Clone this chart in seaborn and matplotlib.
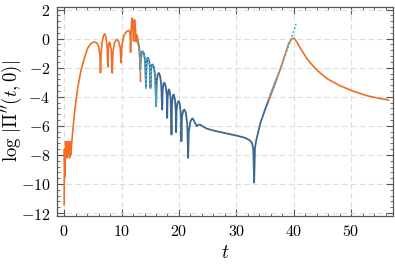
import numpy as np
import pandas as pd
import seaborn as sns
import matplotlib.pyplot as plt
from matplotlib.ticker import MultipleLocator, FuncFormatter

# exact solution, early part (orange)
t_early = [0, 0.05, 0.15, 0.25, 0.35, 0.45, 0.55, 0.65, 0.75, 0.85, 0.95, 1.05, 1.15,
           1.4, 1.77, 2.35, 2.9, 3.5, 4.1, 4.7, 5.25, 5.7, 6.05, 6.25, 6.33, 6.42, 6.6,
           6.85, 7.05, 7.3, 7.5, 7.6, 7.7, 7.85, 8.0, 8.2, 8.38, 8.5, 8.8, 9.2, 9.5,
           9.75, 9.92, 10.05, 10.4, 10.8, 11.2, 11.4, 11.52, 11.57, 11.63, 11.75, 11.86,
           11.95, 12.05, 12.1, 12.18, 12.26, 12.35, 12.45, 12.5, 12.55, 12.7, 12.9,
           13.1, 13.25, 13.3]
y_early = [-11.4, -7.6, -9.5, -7.1, -8.1, -7.1, -8.2, -7.1, -7.9, -7.1, -8.2, -7.1, -8.0,
           -6.8, -5.2, -3.4, -2.25, -1.35, -0.65, -0.33, -0.23, -0.3, -0.6, -1.2, -2.35,
           -1.1, -0.3, 0.2, 0.33, 0.1, -0.6, -1.95, -0.7, -0.25, -0.3, -0.8, -2.36, -0.9,
           -0.25, -0.05, -0.2, -0.6, -1.67, -0.5, 0.2, 0.45, 0.57, 0.5, 0.1, -0.94, 0.2,
           1.1, 1.42, 1.1, 0.2, -0.18, 0.9, 1.3, 1.0, 0.5, -0.2, 0.2, 0.25, -0.2,
           -0.8, -1.8, -2.93]

# exact solution, late part (orange)
t_late = [35.6, 36.5, 37.65, 38.4, 39.1, 39.6, 39.85, 40.05, 40.3, 40.7, 41.1, 41.7,
          42.3, 43.0, 44.0, 45.0, 46.0, 48.1, 50.4, 52.7, 54.5, 56.5]
y_late = [-4.2, -3.3, -2.13, -1.2, -0.35, -0.05, 0.02, 0.02, -0.1, -0.35, -0.62, -1.0,
          -1.38, -1.72, -2.15, -2.5, -2.8, -3.25, -3.62, -3.92, -4.08, -4.22]

# approximation (blue)
t_mid = [12.6, 12.8, 13.0, 13.15, 13.25, 13.35, 13.5, 13.7, 13.9, 14.1, 14.25, 14.35,
         14.5, 14.64, 14.8, 14.95, 15.04, 15.12, 15.3, 15.45, 15.65, 15.85, 16.03, 16.12,
         16.3, 16.5, 16.7, 16.9, 17.08, 17.17, 17.35, 17.5, 17.7, 17.88, 17.95, 18.03,
         18.2, 18.35, 18.55, 18.7, 18.8, 18.95, 19.1, 19.3, 19.45, 19.5, 19.58, 19.75,
         19.97, 20.15, 20.35, 20.43, 20.52, 20.75, 20.96, 21.2, 21.45, 21.6, 21.72, 22.0,
         22.3, 22.47, 22.8, 23.1, 23.4, 23.7, 24.2, 24.9, 26.0, 27.8, 30.0, 31.5, 32.3,
         32.75, 32.95, 33.1, 33.25, 33.5, 34.2, 35.0, 35.9, 37.0]
y_mid = [-0.1, -0.2, -0.45, -0.9, -2.1, -1.4, -0.95, -0.87, -1.05, -1.5, -3.28, -1.8,
         -1.35, -1.33, -1.5, -2.0, -3.39, -2.2, -1.8, -1.79, -2.0, -2.6, -4.65, -3.0,
         -2.45, -2.36, -2.55, -3.1, -4.88, -3.5, -3.05, -3.05, -3.3, -3.9, -5.45, -4.0,
         -3.5, -3.55, -4.1, -6.6, -4.4, -3.9, -3.85, -4.2, -5.0, -6.44, -5.0, -4.4,
         -4.3, -4.5, -5.3, -7.06, -5.4, -4.95, -4.88, -5.1, -5.9, -8.2, -6.4, -5.7,
         -5.5, -5.52, -5.8, -6.03, -5.93, -5.92, -6.05, -6.2, -6.32, -6.48, -6.67, -6.82,
         -6.98, -7.2, -7.6, -9.9, -7.5, -6.94, -5.8, -4.88, -3.96, -2.8]

# asymptotic pieces (cyan, dotted)
t_asym1 = [12.65, 12.8, 13.0, 13.2, 13.3, 13.4, 13.55, 13.7, 13.9, 14.1, 14.27, 14.36,
           14.5, 14.64, 14.8, 14.95, 15.04, 15.12, 15.3, 15.45, 15.65, 15.85, 16.03, 16.1]
y_asym1 = [-0.15, -0.25, -0.5, -1.2, -2.13, -1.3, -0.95, -0.87, -1.05, -1.5, -3.5, -1.8,
           -1.35, -1.33, -1.5, -2.0, -3.5, -2.2, -1.8, -1.79, -2.0, -2.6, -4.65, -3.2]
t_asym2 = [35.8, 37.65, 39.1, 40.0, 40.4]
y_asym2 = [-4.0, -2.1, -0.5, 0.5, 1.0]

orange = "#f26c23"
blue = "#3b6890"
cyan = "#44b3d2"

plt.rcParams['mathtext.fontset'] = 'cm'
plt.rcParams['font.family'] = 'serif'
plt.rcParams['font.serif'] = ['DejaVu Serif']

fig = plt.figure(figsize=(3.95, 2.65), dpi=100)
ax = fig.add_axes([0.145, 0.185, 0.85, 0.79])

sns.lineplot(x=t_mid, y=y_mid, ax=ax, color=blue, lw=1.3, sort=False, estimator=None)
sns.lineplot(x=t_early, y=y_early, ax=ax, color=orange, lw=1.2, sort=False, estimator=None)
sns.lineplot(x=t_late, y=y_late, ax=ax, color=orange, lw=1.2, sort=False, estimator=None)
sns.lineplot(x=t_asym1, y=y_asym1, ax=ax, color=cyan, lw=1.2, sort=False,
             estimator=None, linestyle=(0, (1.2, 1.2)))
sns.lineplot(x=t_asym2, y=y_asym2, ax=ax, color=cyan, lw=1.2, sort=False,
             estimator=None, linestyle=(0, (1.2, 1.2)))

ax.set_xlim(-1.2, 57.3)
ax.set_ylim(-12.2, 2.2)
ax.xaxis.set_major_locator(MultipleLocator(10))
ax.xaxis.set_minor_locator(MultipleLocator(2))
ax.yaxis.set_major_locator(MultipleLocator(2))
ax.yaxis.set_minor_locator(MultipleLocator(0.4))
fmt = FuncFormatter(lambda v, p: r'$%d$' % round(v))
ax.xaxis.set_major_formatter(fmt)
ax.yaxis.set_major_formatter(fmt)

ax.grid(True, which='major', color='#dddddd', ls=(0, (5, 3)), lw=0.8)
ax.tick_params(which='both', direction='in', top=True, right=True, color='#555555',
               labelsize=11.5, pad=5)
ax.tick_params(which='major', length=5, width=0.8)
ax.tick_params(which='minor', length=2.5, width=0.6)
for s in ax.spines.values():
    s.set_color('#555555')
    s.set_linewidth(0.9)

ax.set_xlabel(r'$t$', fontsize=14, labelpad=3)
ax.set_ylabel(r"$\log\,|\Pi''(t,0)|$", fontsize=13.5)
ax.yaxis.set_label_coords(-0.1, 0.5)

fig.savefig("out.png", dpi=100)
